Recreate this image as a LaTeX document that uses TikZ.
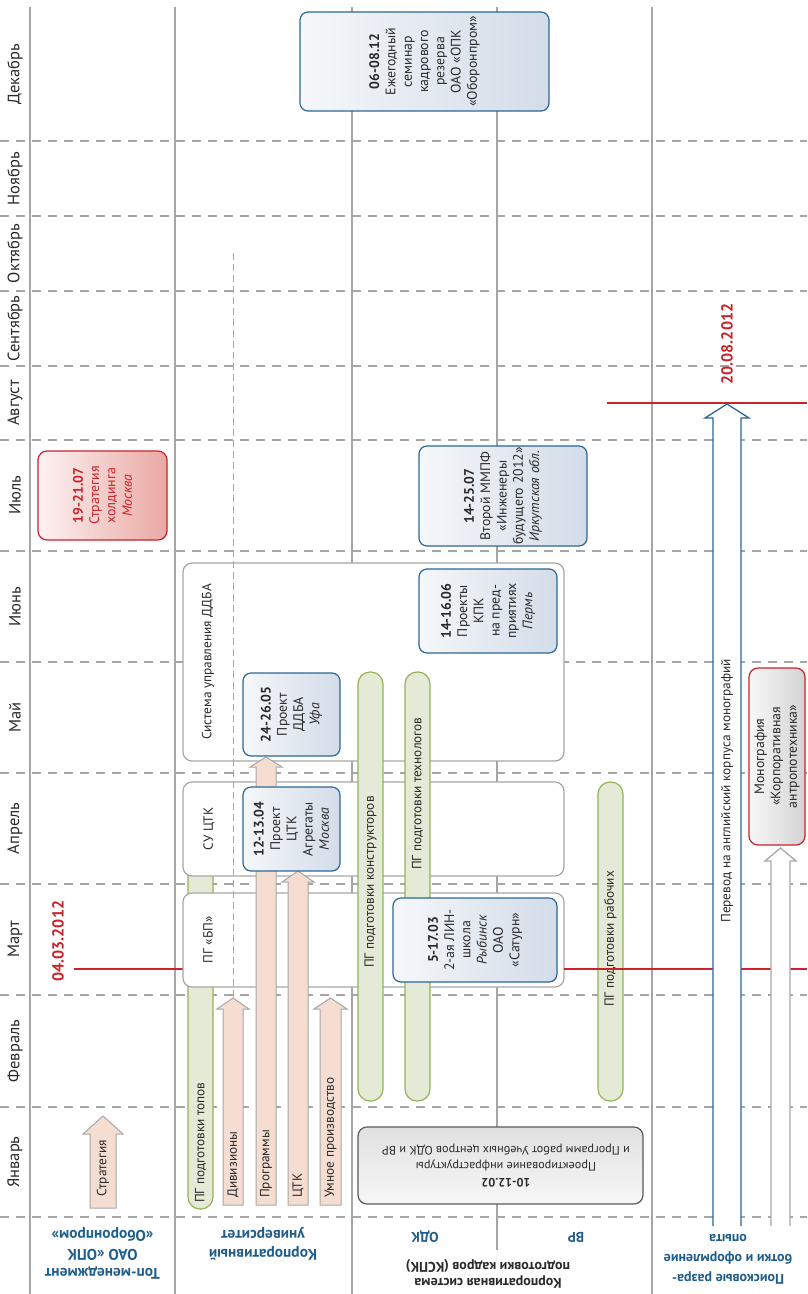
\documentclass[tikz,border=0pt]{standalone}
\usepackage{fontspec}
\setmainfont{PT Sans}
\definecolor{gridgray}{HTML}{A6A6A6}
\definecolor{hdrblue}{HTML}{1F5E8C}
\definecolor{evred}{HTML}{CC2229}
\definecolor{salmonfill}{HTML}{F6DDD2}
\definecolor{arrgray}{HTML}{A8A8A8}
\definecolor{grfill}{HTML}{E4EAD5}
\definecolor{grdraw}{HTML}{93B356}
\definecolor{bluedraw}{HTML}{2B6896}
\definecolor{bluelight}{HTML}{F5F7FA}
\definecolor{bluedark}{HTML}{D3DCE8}
\definecolor{txt}{HTML}{2A2A2A}
\begin{document}
\begin{tikzpicture}[x=1pt,y=-1pt,
  hdash/.style={draw=gridgray, line width=1.1pt, dash pattern=on 9pt off 7pt},
  vline/.style={draw=gridgray, line width=1.1pt},
  vdash/.style={draw=gridgray, line width=0.9pt, dash pattern=on 7pt off 4pt},
  month/.style={rotate=90, font=\fontsize{16.5}{18}\selectfont, text=txt},
  redline/.style={draw=evred, line width=2pt},
  greenbar/.style={draw=grdraw, fill=grfill, line width=1.2pt, rounded corners=12pt, inner sep=0pt},
  whitebox/.style={draw=gridgray, fill=white, line width=1.2pt, rounded corners=9pt, inner sep=0pt},
  bluebox/.style={draw=bluedraw, line width=1.2pt, rounded corners=8pt, left color=bluelight, right color=bluedark, inner sep=0pt},
  salarrow/.style={draw=arrgray, fill=salmonfill, line width=1pt},
  vtext/.style={rotate=90, font=\fontsize{13.3}{15}\selectfont, text=txt, inner sep=1pt},
  evtext/.style={rotate=90, align=center, font=\fontsize{13.8}{16.3}\selectfont, text=txt},
  hdr/.style={rotate=180, align=center, font=\bfseries\fontsize{15.4}{19}\selectfont, text=hdrblue},
  redlabel/.style={rotate=90, font=\bfseries\fontsize{16}{18}\selectfont, text=evred},
]
\useasboundingbox (0,0) rectangle (807,1294);
\fill[white] (0,0) rectangle (807,1294);

% grid
\foreach \yy in {141,216,291,366,440,551,662,773,884,995,1107,1217}
  \draw[hdash] (0,\yy) -- (807,\yy);
\coordinate (v1t) at (30,7);   \coordinate (v1b) at (30,1294);
\coordinate (v2t) at (175,7);  \coordinate (v2b) at (175,1294);
\coordinate (v3t) at (352,7);  \coordinate (v3b) at (352,1294);
\coordinate (v4t) at (497,7);  \coordinate (v4b) at (497,1250);
\coordinate (v5t) at (652,7);  \coordinate (v5b) at (652,1294);
\draw[vline] (v1t) -- (v1b);
\draw[vline] (v2t) -- (v2b);
\draw[vline] (v3t) -- (v3b);
\draw[vline] (v4t) -- (v4b);
\draw[vline] (v5t) -- (v5b);

% month labels
\foreach \yy/\mm in {74/Декабрь,178.5/Ноябрь,253.5/Октябрь,328.5/Сентябрь,403/Август,495.5/Июль,606.5/Июнь,717.5/Май,828.5/Апрель,939.5/Март,1051/Февраль,1162/Январь}
  \node[month] (m\yy) at (15,\yy) {\mm};

% headers
\node[hdr] (h1) at (102.5,1253) {Топ-менеджмент\\ОАО «ОПК\\«Оборонпром»};
\node[hdr] (h2) at (263,1244) {Корпоративный\\университет};
\node[hdr, font=\bfseries\fontsize{14}{16}\selectfont] (h4) at (425,1237) {ОДК};
\node[hdr, font=\bfseries\fontsize{14}{16}\selectfont] (h5) at (576,1237) {ВР};
\node[hdr, text=txt, font=\bfseries\fontsize{14}{15.5}\selectfont] (h3) at (488,1274) {Корпоративная система\\подготовки кадров (КСПК)};
\node[hdr, font=\bfseries\fontsize{14}{20}\selectfont] (h6) at (728,1259) {Поисковые разра-\\ботки и оформление\\опыта};

% red line left part
\coordinate (r1a) at (74,969);
\coordinate (r1b) at (190,969);
\draw[redline] (r1a) -- (r1b);
\node[redlabel] (d0403) at (58,941) {04.03.2012};

% green bar tops (under boxes)
\node[greenbar, minimum width=25pt, minimum height=419pt] (gtop) at (200.5,999.5) {};
\node[vtext, anchor=west] (gtopt) at (200.5,1204) {ПГ подготовки топов};

% white boxes
\node[whitebox, minimum width=381pt, minimum height=198pt] (ddba) at (373.5,662) {};
\node[vtext] at (208,662) {Система управления ДДБА};
\node[whitebox, minimum width=381pt, minimum height=94pt] (suctk) at (373.5,829) {};
\node[vtext] at (209,829) {СУ ЦТК};
\node[whitebox, minimum width=381pt, minimum height=94pt] (pgbp) at (373.5,940) {};
\node[vtext] at (208,940) {ПГ «БП»};

% dashed vertical
\coordinate (vd1) at (233,253);
\coordinate (vd2) at (233,997);
\draw[vdash] (vd1) -- (vd2);

% green bars KSPK
\node[greenbar, minimum width=25pt, minimum height=429pt] (gkon) at (370.5,886.5) {};
\node[vtext, anchor=west] at (370.5,969) {ПГ подготовки конструкторов};
\node[greenbar, minimum width=25pt, minimum height=429pt] (gtech) at (417.5,886.5) {};
\node[vtext, anchor=west] at (417.5,871) {ПГ подготовки технологов};
\node[greenbar, minimum width=25pt, minimum height=319pt] (grab) at (610.5,941.5) {};
\node[vtext, anchor=west] at (610.5,1008) {ПГ подготовки рабочих};

% red line right part
\coordinate (r1c) at (564,969);
\coordinate (r1d) at (807,969);
\draw[redline] (r1c) -- (r1d);
\coordinate (r2a) at (607,403);
\coordinate (r2b) at (807,403);
\draw[redline] (r2a) -- (r2b);
\node[redlabel] (d2008) at (727,344) {20.08.2012};

% salmon arrows
\draw[salarrow] (90,1208) -- (90,1134) -- (83,1134) -- (103,1116) -- (123,1134) -- (116,1134) -- (116,1208) -- cycle;
\node[vtext] (tstrat) at (103,1168) {Стратегия};
\draw[salarrow] (223,1205) -- (223,1009) -- (217,1009) -- (233,998) -- (249,1009) -- (243,1009) -- (243,1205) -- cycle;
\node[vtext, anchor=west] at (233,1199) {Дивизионы};
\draw[salarrow] (256,1205) -- (256,767) -- (250,767) -- (266,757) -- (282,767) -- (276,767) -- (276,1205) -- cycle;
\node[vtext, anchor=west] at (266,1199) {Программы};
\draw[salarrow] (288,1205) -- (288,882) -- (282,882) -- (298,871) -- (314,882) -- (308,882) -- (308,1205) -- cycle;
\node[vtext, anchor=west] at (298,1199) {ЦТК};
\draw[salarrow] (320,1205) -- (320,1009) -- (314,1009) -- (330.5,998) -- (347,1009) -- (341,1009) -- (341,1205) -- cycle;
\node[vtext, anchor=west] at (330.5,1199) {Умное производство};

% event boxes
\node[draw=evred, line width=1.2pt, rounded corners=9pt, left color=evred!6, right color=evred!28!salmonfill, inner sep=0pt, minimum width=129pt, minimum height=89pt] (strat) at (102.5,495.5) {};
\node[evtext, text=evred] at (strat) {\textbf{19-21.07}\\Стратегия\\холдинга\\\textit{Москва}};

\node[bluebox, minimum width=97pt, minimum height=84pt] (p1204) at (291.5,829) {};
\node[evtext] at (p1204) {\textbf{12-13.04}\\Проект\\ЦТК\\Агрегаты\\\textit{Москва}};
\node[bluebox, minimum width=97pt, minimum height=83pt] (p2405) at (291.5,714.5) {};
\node[evtext] at (p2405) {\textbf{24-26.05}\\Проект\\ДДБА\\\textit{Уфа}};
\node[bluebox, minimum width=138pt, minimum height=84pt] (p1406) at (488,611) {};
\node[evtext] at (p1406) {\textbf{14-16.06}\\Проекты\\КПК\\на пред-\\приятиях\\\textit{Пермь}};
\node[bluebox, minimum width=168pt, minimum height=100pt] (p1407) at (503,496) {};
\node[evtext] at (p1407) {\textbf{14-25.07}\\Второй ММПФ\\«Инженеры\\будущего 2012»\\\textit{Иркутская обл.}};
\node[bluebox, minimum width=164pt, minimum height=84pt] (p0503) at (475,940) {};
\node[evtext] at (p0503) {\textbf{5-17.03}\\2-ая ЛИН-\\школа\\\textit{Рыбинск}\\ОАО\\«Сатурн»};
\node[bluebox, minimum width=249pt, minimum height=99pt] (p0612) at (424.5,61.5) {};
\node[evtext] at (p0612) {\textbf{06-08.12}\\Ежегодный\\семинар\\кадрового\\резерва\\ОАО «ОПК\\«Оборонпром»};

% project box (upside-down)
\node[draw=black!65, line width=1.2pt, rounded corners=9pt, top color=black!12, bottom color=black!3, inner sep=0pt, minimum width=285pt, minimum height=77pt] (proj) at (500.5,1165.5) {};
\node[rotate=180, align=center, font=\fontsize{12.2}{16}\selectfont, text=txt] (projt) at (506,1165.5) {\textbf{10-12.02}\\Проектирование инфраструктуры\\и Программ работ Учебных центров ОДК и ВР};

% research column arrows
\draw[draw=bluedraw, fill=white, line width=1.3pt] (713,1226) -- (713,418) -- (705,418) -- (727,404) -- (749,418) -- (741,418) -- (741,1226);
\node[vtext] (transl) at (727,791) {Перевод на английский корпуса монографий};
\node[draw=evred, line width=1.2pt, rounded corners=9pt, left color=black!3, right color=black!17, inner sep=0pt, minimum width=56pt, minimum height=177pt] (mono) at (777,756.5) {};
\node[evtext] at (mono) {Монография\\«Корпоративная\\антропотехника»};
\draw[draw=arrgray, fill=white, line width=1.3pt] (771,1226) -- (771,861) -- (765,861) -- (780.5,848) -- (796,861) -- (790,861) -- (790,1226);
\end{tikzpicture}
\end{document}
